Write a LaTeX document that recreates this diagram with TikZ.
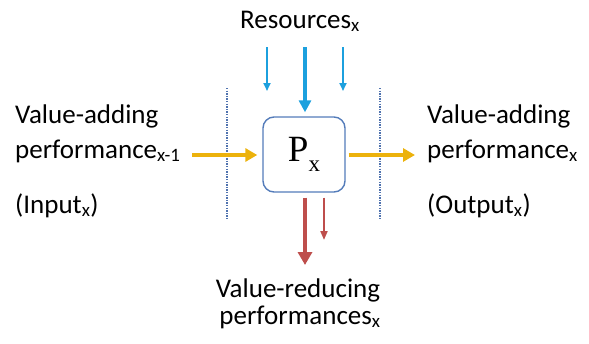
\documentclass[tikz,border=0pt]{standalone}
\usepackage{fontspec}
\usepackage{tikz}
\setmainfont{Carlito}
\newfontfamily\serifp{Liberation Serif}
\usetikzlibrary{arrows.meta}
\usetikzlibrary{positioning}
\definecolor{rblue}{RGB}{28, 160, 222}
\definecolor{vyellow}{RGB}{236, 178, 12}
\definecolor{vred}{RGB}{190, 78, 76}
\definecolor{pframe}{RGB}{84, 124, 186}
\definecolor{sepdot}{RGB}{80, 115, 175}

\begin{document}
\begin{tikzpicture}[x=1pt, y=-1pt,
    every node/.style={font=\fontsize{27}{27}\selectfont, inner sep=0pt},
    procbox/.style={draw=pframe, line width=1.4pt, rounded corners=11pt,
      minimum width=82pt, minimum height=75pt, fill=white},
    separator/.style={sepdot, line width=2pt, dash pattern=on 1.3pt off 1.3pt},
    resbig/.style={rblue, line width=3.5pt, -{Triangle[length=12pt, width=12pt]}},
    ressmall/.style={rblue, line width=1.8pt, -{Triangle[length=8pt, width=7pt]}},
    vadd/.style={vyellow, line width=3.5pt, -{Triangle[length=12pt, width=13pt]}},
    redbig/.style={vred, line width=4.5pt, -{Triangle[length=13pt, width=14pt]}},
    redsmall/.style={vred, line width=2pt, -{Triangle[length=9pt, width=7pt]}}]
    \useasboundingbox (0, 0) rectangle (589, 343);

    \node [procbox] (P) at (304, 154.5) {};
    \node at (P) {\serifp\fontsize{37}{37}\selectfont P\raisebox{-0.25em}{\fontsize{23}{23}\selectfont x}};

    \node [anchor=base] (res) at (300, 28) {Resources\textsubscript{x}};
    \coordinate (r1s) at (267, 47);
    \coordinate (r1e) at (267, 91);
    \coordinate (r2s) at (305, 47);
    \coordinate (r3s) at (343, 47);
    \coordinate (r3e) at (343, 91);
    \draw [ressmall] (r1s) -- (r1e);
    \draw [resbig, shorten >=4pt] (r2s) -- (P.north -| r2s);
    \draw [ressmall] (r3s) -- (r3e);

    \coordinate (lt) at (227, 88);
    \coordinate (lb) at (227, 219);
    \coordinate (rt) at (380, 88);
    \coordinate (rb) at (380, 220);
    \draw [separator] (lt) -- (lb);
    \draw [separator] (rt) -- (rb);

    \node [anchor=base west] (in1) at (15, 123) {Value-adding};
    \node [anchor=base west] (in2) at (15, 158) {performance\textsubscript{x-1}};
    \node [anchor=base west] (in3) at (15, 213) {(Input\textsubscript{x})};
    \coordinate (ins) at (192, 155);
    \draw [vadd, shorten >=5pt] (ins) -- (P.west |- ins);

    \node [anchor=base west] (out1) at (427, 123) {Value-adding};
    \node [anchor=base west] (out2) at (427, 158) {performance\textsubscript{x}};
    \node [anchor=base west] (out3) at (427, 213) {(Output\textsubscript{x})};
    \coordinate (oute) at (415, 155);
    \draw [vadd, shorten <=3pt] (P.east |- oute) -- (oute);

    \coordinate (d1e) at (305, 265);
    \coordinate (d2e) at (324, 240);
    \draw [redbig, shorten <=5pt] (P.south -| d1e) -- (d1e);
    \draw [redsmall, shorten <=5pt] (P.south -| d2e) -- (d2e);
    \node [anchor=base] (red1) at (298, 297) {Value-reducing};
    \node [anchor=base] (red2) at (300, 324) {performances\textsubscript{x}};
  \end{tikzpicture}
\end{document}
